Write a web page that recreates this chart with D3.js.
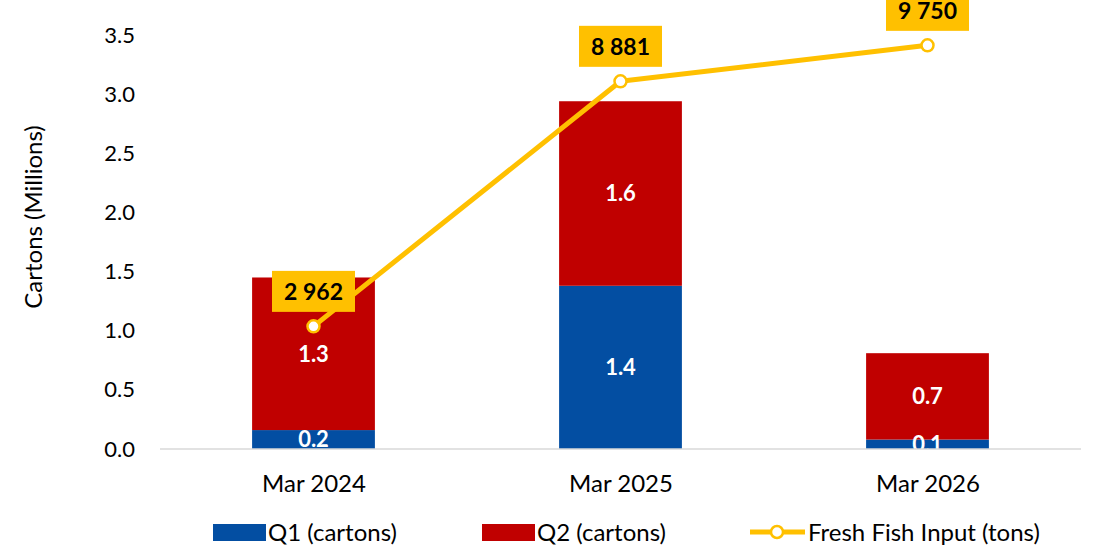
<!DOCTYPE html>
<html>
<head>
<meta charset="utf-8">
<script src="https://cdn.jsdelivr.net/npm/d3@7"></script>
<style>
  body { margin: 0; background: #fff; }
  svg { font-family: Lato, 'Open Sans', sans-serif; }
</style>
</head>
<body>
<script>
const categories = ['Mar 2024', 'Mar 2025', 'Mar 2026'];
const q1Values = [0.16, 1.38, 0.08];
const q2Values = [1.29, 1.56, 0.73];
const fishInput = [2962, 8881, 9750];
const yTicks = [0, 0.5, 1.0, 1.5, 2.0, 2.5, 3.0, 3.5];

const width = 1094;
const height = 548;
const colors = { q1: '#034EA2', q2: '#C00000', line: '#FFC000' };

const svg = d3.select('body')
  .append('svg')
  .attr('width', width)
  .attr('height', height);

// Scales
const xScale = d3.scalePoint()
  .domain(categories)
  .range([160, 1081])
  .padding(0.5);
const barWidth = xScale.step() * 0.4;

const yScale = d3.scaleLinear()
  .domain([0, 3.5])
  .range([449, 35]);

// hidden secondary axis for the line
const y2Scale = d3.scaleLinear()
  .domain([0, 10000])
  .range([449, 35]);

const stacked = categories.map((c, i) => ({
  cat: c,
  segs: [
    { key: 'q1', y0: 0, y1: q1Values[i], v: q1Values[i] },
    { key: 'q2', y0: q1Values[i], y1: q1Values[i] + q2Values[i], v: q2Values[i] }
  ]
}));

// Bars
const groups = svg.selectAll('.bar-group')
  .data(stacked)
  .enter()
  .append('g')
  .attr('class', 'bar-group');

groups.selectAll('rect')
  .data(d => d.segs.map(s => Object.assign({ cat: d.cat }, s)))
  .enter()
  .append('rect')
  .attr('x', d => xScale(d.cat) - barWidth / 2)
  .attr('y', d => yScale(d.y1))
  .attr('width', barWidth)
  .attr('height', d => yScale(d.y0) - yScale(d.y1))
  .style('fill', d => colors[d.key]);

groups.selectAll('text')
  .data(d => d.segs.map(s => Object.assign({ cat: d.cat }, s)))
  .enter()
  .append('text')
  .attr('x', d => xScale(d.cat))
  .attr('y', d => (yScale(d.y0) + yScale(d.y1)) / 2)
  .attr('dy', '0.36em')
  .attr('text-anchor', 'middle')
  .style('fill', '#fff')
  .style('font-weight', 'bold')
  .style('font-size', '22px')
  .text(d => d.v.toFixed(1));

// Y axis (no line, no ticks)
const yAxis = d3.axisLeft(yScale)
  .tickValues(yTicks)
  .tickFormat(d3.format('.1f'))
  .tickSize(0)
  .tickPadding(0);

const yAxisG = svg.append('g')
  .attr('transform', 'translate(135, 0)')
  .call(yAxis);
yAxisG.select('.domain').remove();
yAxisG.selectAll('text')
  .style('font-family', 'Lato, sans-serif')
  .style('font-size', '22px')
  .style('fill', '#000');

// X axis
const xAxisG = svg.append('g')
  .attr('transform', 'translate(0, 449)')
  .call(d3.axisBottom(xScale).tickSize(0).tickPadding(26));
xAxisG.select('.domain')
  .attr('d', 'M160,0H1081')
  .style('stroke', '#d9d9d9')
  .style('stroke-width', 1.5);
xAxisG.selectAll('text')
  .style('font-family', 'Lato, sans-serif')
  .style('font-size', '24px')
  .style('fill', '#000');

// Axis title
svg.append('text')
  .attr('transform', 'translate(42, 217) rotate(-90)')
  .attr('text-anchor', 'middle')
  .style('font-size', '24px')
  .text('Cartons (Millions)');

// Line
const line = d3.line()
  .x((d, i) => xScale(categories[i]))
  .y(d => y2Scale(d));

svg.append('path')
  .datum(fishInput)
  .attr('d', line)
  .style('fill', 'none')
  .style('stroke', colors.line)
  .style('stroke-width', 5)
  .style('stroke-linejoin', 'round');

svg.selectAll('.marker')
  .data(fishInput)
  .enter()
  .append('circle')
  .attr('class', 'marker')
  .attr('cx', (d, i) => xScale(categories[i]))
  .attr('cy', d => y2Scale(d))
  .attr('r', 6)
  .style('fill', '#fff')
  .style('stroke', colors.line)
  .style('stroke-width', 2.5);

// Line labels
const fmt = d => d3.format(',')(d).replace(',', ' ');
const labels = svg.selectAll('.line-label')
  .data(fishInput)
  .enter()
  .append('g')
  .attr('class', 'line-label')
  .attr('transform', (d, i) => `translate(${xScale(categories[i])}, ${y2Scale(d) - 35})`);

labels.append('rect')
  .attr('x', -41.5)
  .attr('y', -20.5)
  .attr('width', 83)
  .attr('height', 41)
  .style('fill', colors.line);

labels.append('text')
  .attr('text-anchor', 'middle')
  .attr('dy', '0.36em')
  .style('font-weight', 'bold')
  .style('font-size', '23px')
  .style('fill', '#000')
  .text(d => fmt(d));

// Legend
const leg = svg.append('g').attr('id', 'legend');

leg.append('rect')
  .attr('x', 213).attr('y', 524)
  .attr('width', 53).attr('height', 17)
  .style('fill', colors.q1);
leg.append('text')
  .attr('x', 268).attr('y', 532).attr('dy', '0.36em')
  .style('font-size', '24px')
  .text('Q1 (cartons)');

leg.append('rect')
  .attr('x', 482).attr('y', 524)
  .attr('width', 53).attr('height', 17)
  .style('fill', colors.q2);
leg.append('text')
  .attr('x', 537).attr('y', 532).attr('dy', '0.36em')
  .style('font-size', '24px')
  .text('Q2 (cartons)');

leg.append('line')
  .attr('x1', 750).attr('x2', 805)
  .attr('y1', 532).attr('y2', 532)
  .style('stroke', colors.line)
  .style('stroke-width', 5);
leg.append('circle')
  .attr('cx', 777).attr('cy', 532).attr('r', 6)
  .style('fill', '#fff')
  .style('stroke', colors.line)
  .style('stroke-width', 2.5);
leg.append('text')
  .attr('x', 808).attr('y', 532).attr('dy', '0.36em')
  .style('font-size', '24px')
  .text('Fresh Fish Input (tons)');
</script>
</body>
</html>
